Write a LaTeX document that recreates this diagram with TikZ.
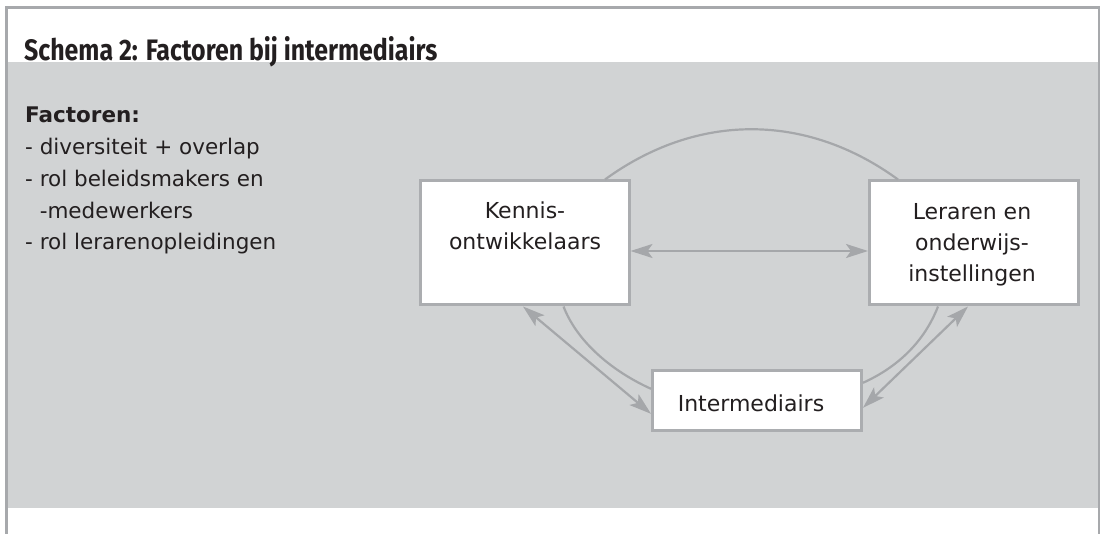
\documentclass[tikz,border=0pt]{standalone}
\usepackage{fontspec}
\setmainfont{DejaVu Sans}
\newfontfamily\titlefont{Fira Sans}
\usetikzlibrary{arrows.meta,calc}
\definecolor{band}{HTML}{D1D3D4}
\definecolor{framec}{HTML}{A7A9AC}
\definecolor{linec}{HTML}{A5A7AA}
\definecolor{boxc}{HTML}{ABADB0}
\definecolor{txt}{HTML}{231F20}
\tikzset{
  boxnode/.style={draw=boxc, line width=3pt, fill=white, minimum width=209pt, minimum height=124pt, inner sep=0pt},
  boxtext/.style={anchor=base, inner sep=0pt, align=center, text=txt, font=\fontsize{22}{31.4}\selectfont},
  conn/.style={draw=linec, line width=2.2pt},
  tipped/.style={conn, {Stealth[length=22pt,width=14pt,inset=5pt,fill=linec]}-{Stealth[length=22pt,width=14pt,inset=5pt,fill=linec]}},
}
\begin{document}
\begin{tikzpicture}[x=1pt,y=-1pt]
\useasboundingbox (0,0) rectangle (1100,534);
% frame and band
\fill[band] (7.7,62) rectangle (1098,508);
\draw[framec, line width=3pt] (5,7.5) -- (1100,7.5);
\draw[framec, line width=2.4pt] (6.5,6) -- (6.5,534);
\draw[framec, line width=1.6pt] (1098.9,6) -- (1098.9,534);
% title
\node[anchor=base west, inner sep=0pt, text=txt] (title) at (24,60.5)
  {\resizebox{413pt}{24pt}{\titlefont\bfseries Schema 2: Factoren bij intermediairs}};
% factor list (anchored at the baseline of its last line)
\node[anchor=base west, inner sep=0pt, align=left, text=txt, font=\fontsize{21.5}{31.7}\selectfont] (factors) at (25,249.8)
  {\textbf{Factoren:}\\- diversiteit + overlap\\- rol beleidsmakers en\\\phantom{- }-medewerkers\\- rol lerarenopleidingen};
% boxes
\node[boxnode] (kennis) at (524.5,243) {};
\node[boxnode] (leraren) at (974,243) {};
\node[boxnode, minimum height=60pt] (inter) at (757,400.8) {};
\node[boxtext] (kennist) at (525,250) {Kennis-\\ontwikkelaars};
\node[boxtext] (lerarent) at (972,282) {Leraren en\\onderwijs-\\instellingen};
\node[boxtext] (intert) at (751,411) {Intermediairs};
% top arc
\coordinate (ta) at ([xshift=80.5pt]kennis.north);
\coordinate (tb) at ([xshift=-76pt]leraren.north);
\draw[conn] (ta) .. controls ($(ta)+(92,-67)$) and ($(tb)+(-92,-67)$) .. (tb);
% bottom arcs
\coordinate (bl1) at ([xshift=39pt]kennis.south);
\coordinate (bl2) at ([yshift=12pt]inter.west);
\draw[conn] (bl1) .. controls ($(bl1)+(14.4,37.2)$) and ($(bl2)+(-36.4,-16.4)$) .. (bl2);
\coordinate (br1) at ([xshift=-36pt]leraren.south);
\coordinate (br2) at ([yshift=18pt]inter.east);
\draw[conn] (br1) .. controls ($(br1)+(-13.7,35.3)$) and ($(br2)+(34.6,-15.6)$) .. (br2);
% arrows
\draw[tipped] ([yshift=-8pt]kennis.east) -- ([yshift=-8pt]leraren.west);
\draw[tipped] ([xshift=-1.5pt]kennis.south) -- ([yshift=-13pt]inter.west);
\draw[tipped] ([xshift=-6pt]leraren.south) -- ([yshift=-7pt]inter.east);
\end{tikzpicture}
\end{document}
